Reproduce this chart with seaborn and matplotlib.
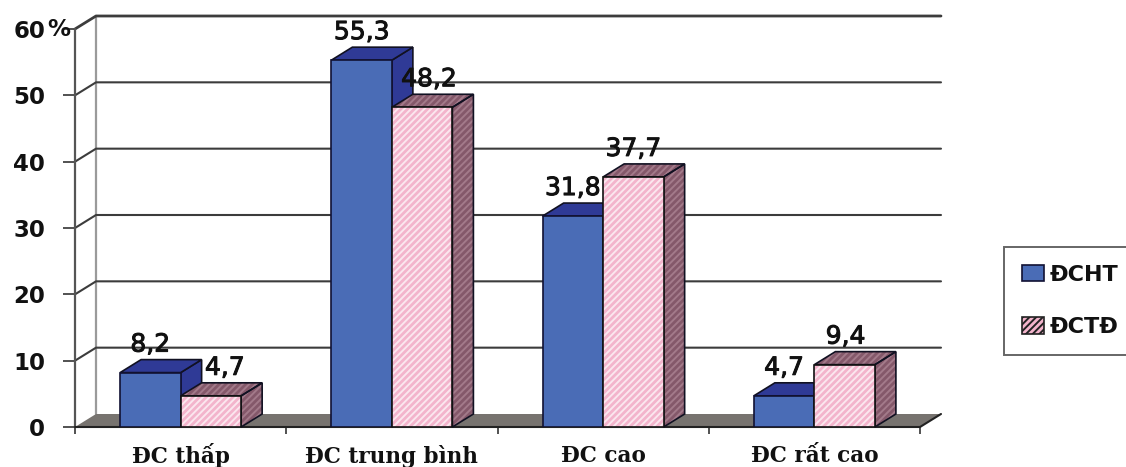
import matplotlib
matplotlib.use("Agg")
import matplotlib.patheffects as pe
import matplotlib.pyplot as plt
import pandas as pd
import seaborn as sns
from matplotlib.patches import Patch, Polygon, Rectangle

# du lieu doc tu hinh
nhom = ["ĐC thấp", "ĐC trung bình", "ĐC cao", "ĐC rất cao"]
dcht = [8.2, 55.3, 31.8, 4.7]
dctd = [4.7, 48.2, 37.7, 9.4]
nhan_dcht = ["8,2", "55,3", "31,8", "4,7"]
nhan_dctd = ["4,7", "48,2", "37,7", "9,4"]
y_ticks = [0, 10, 20, 30, 40, 50, 60]

df = pd.DataFrame({
    "nhom": nhom * 2,
    "gia_tri": dcht + dctd,
    "loai": ["ĐCHT"] * 4 + ["ĐCTĐ"] * 4,
})

W, H = 1126, 467
X0, X1, Y0, Y60 = 75, 920, 427, 29  # mat truoc, tinh theo pixel

sns.set_theme(style="white")
plt.rcParams["font.family"] = ["DejaVu Sans"]
plt.rcParams["hatch.linewidth"] = 1.4

fig = plt.figure(figsize=(W / 100, H / 100), dpi=100)
ax = fig.add_axes([X0 / W, 1 - Y0 / H, (X1 - X0) / W, (Y0 - Y60) / H])

XANH, XANH_TOI = "#4a6cb6", "#2f3a96"
HONG, HONG_TOI = "#f3b4cc", "#84586a"

sns.barplot(data=df, x="nhom", y="gia_tri", hue="loai", order=nhom,
            palette=[XANH, HONG], width=0.573, gap=0, saturation=1,
            legend=False, ax=ax, zorder=3)
ax.set_xlim(-0.5, 3.5)
ax.set_ylim(0, 60)
ax.set_xlabel("")
ax.set_ylabel("")
sns.despine(ax=ax, left=True, bottom=True, top=True, right=True)

# do sau 3D tinh theo don vi du lieu
dx = 21 / ((X1 - X0) / 4)
dy = 13 / ((Y0 - Y60) / 60)


def mat(pts, mau, z, hatch=None, mau_hatch=None, vien="#111122", lw=1.2):
    if hatch:
        ax.add_patch(Polygon(pts, facecolor=mau, edgecolor=mau_hatch, hatch=hatch,
                             linewidth=0, zorder=z, clip_on=False))
        ax.add_patch(Polygon(pts, fill=False, edgecolor=vien, linewidth=lw,
                             zorder=z + 0.01, clip_on=False))
    else:
        ax.add_patch(Polygon(pts, facecolor=mau, edgecolor=vien, linewidth=lw,
                             zorder=z, clip_on=False))


# tuong va san
mau_tuong = "#9a9a9a"
mau_luoi = "#3c3c3c"
ax.plot([-0.5 + dx, -0.5 + dx], [dy, 60 + dy], color=mau_tuong, lw=1.6, clip_on=False, zorder=1)
ax.plot([-0.5, -0.5], [0, 60], color="#555555", lw=1.6, clip_on=False, zorder=1.2)
for t in y_ticks[1:]:
    ax.plot([-0.5, -0.5 + dx, 3.5 + dx], [t, t + dy, t + dy], color=mau_luoi,
            lw=2.0 if t == 60 else 1.5, clip_on=False, zorder=1.1)
ax.add_patch(Polygon([(-0.5, 0), (-0.5 + dx, dy), (3.5 + dx, dy), (3.5, 0)],
                     facecolor="#77736f", edgecolor="none", clip_on=False, zorder=1.5))
ax.plot([-0.5, 3.5, 3.5 + dx], [0, 0, dy], color="#222222", lw=1.5, clip_on=False, zorder=1.6)

# mat tren va mat ben cua cot
cot_xanh = ax.containers[0]
cot_hong = ax.containers[1]
for c in cot_xanh:
    x, w, h = c.get_x(), c.get_width(), c.get_height()
    c.set_edgecolor("#111133")
    c.set_linewidth(1.2)
    mat([(x + w, 0), (x + w + dx, dy), (x + w + dx, h + dy), (x + w, h)], XANH_TOI, 2.4)
    mat([(x, h), (x + dx, h + dy), (x + w + dx, h + dy), (x + w, h)], XANH_TOI, 2.4)
for c in cot_hong:
    x, w, h = c.get_x(), c.get_width(), c.get_height()
    c.set_hatch("/////")
    c.set_edgecolor("#fbe6ee")
    c.set_linewidth(0)
    ax.add_patch(Rectangle((x, 0), w, h, fill=False, edgecolor="#111111", lw=1.2, zorder=3.1))
    mat([(x + w, 0), (x + w + dx, dy), (x + w + dx, h + dy), (x + w, h)], HONG_TOI, 2.7,
        hatch="/////", mau_hatch="#a37a8a")
    mat([(x, h), (x + dx, h + dy), (x + w + dx, h + dy), (x + w, h)], HONG_TOI, 2.7,
        hatch="/////", mau_hatch="#a37a8a")

# nhan gia tri
day = [pe.withStroke(linewidth=0.7, foreground="#111111")]
lech_hong = [14, 7, 0, 1]  # pixel, nhan cot hong bi day sang phai
for i, c in enumerate(cot_xanh):
    ax.annotate(nhan_dcht[i], (c.get_x() + c.get_width() / 2, c.get_height()),
                xytext=(0, 28 * 0.72), textcoords="offset points", ha="center", va="center",
                fontsize=18, color="#111111", annotation_clip=False, zorder=5, path_effects=day)
for i, c in enumerate(cot_hong):
    ax.annotate(nhan_dctd[i], (c.get_x() + c.get_width() / 2, c.get_height()),
                xytext=(lech_hong[i] * 0.72, 28 * 0.72), textcoords="offset points",
                ha="center", va="center",
                fontsize=18, color="#111111", annotation_clip=False, zorder=5, path_effects=day)

# truc
ax.set_yticks(y_ticks)
ax.set_yticklabels([str(t) for t in y_ticks], fontsize=16.5, fontweight="bold", color="#111111")
ax.tick_params(axis="y", length=8.5, width=1.2, color="#333333", pad=13, left=True)
ax.set_xticks([-0.5, 0.5, 1.5, 2.5, 3.5])
ax.set_xticklabels([])
ax.tick_params(axis="x", length=5, width=1.2, color="#333333", bottom=True)
for i, ten in enumerate(nhom):
    ax.annotate(ten, (i, 0), xytext=(0, -29 * 0.72), textcoords="offset points",
                ha="center", va="center", family="DejaVu Serif", fontweight="bold",
                fontsize=15.5, color="#111111", annotation_clip=False)
ax.annotate("%", (-0.5, 60), xytext=(-16 * 0.72, 0), textcoords="offset points",
            ha="center", va="center", fontsize=16.5, fontweight="bold", color="#111111",
            annotation_clip=False)

# chu giai
handles = [Patch(facecolor=XANH, edgecolor="#111133", lw=1.2, label="ĐCHT"),
           Patch(facecolor=HONG, edgecolor="#222222", lw=1.2, hatch="/////", label="ĐCTĐ")]
leg = fig.legend(handles=handles, loc="center left", bbox_to_anchor=(1004 / W, 1 - 301 / H),
                 borderaxespad=0, prop={"size": 16, "weight": "bold"}, handlelength=1.0,
                 handleheight=0.75, handletextpad=0.25, labelspacing=1.45, borderpad=0.8,
                 fancybox=False, framealpha=1, edgecolor="#666666", labelcolor="#111111")
leg.get_frame().set_linewidth(1.4)

fig.savefig("out.png", dpi=100, facecolor="white")
